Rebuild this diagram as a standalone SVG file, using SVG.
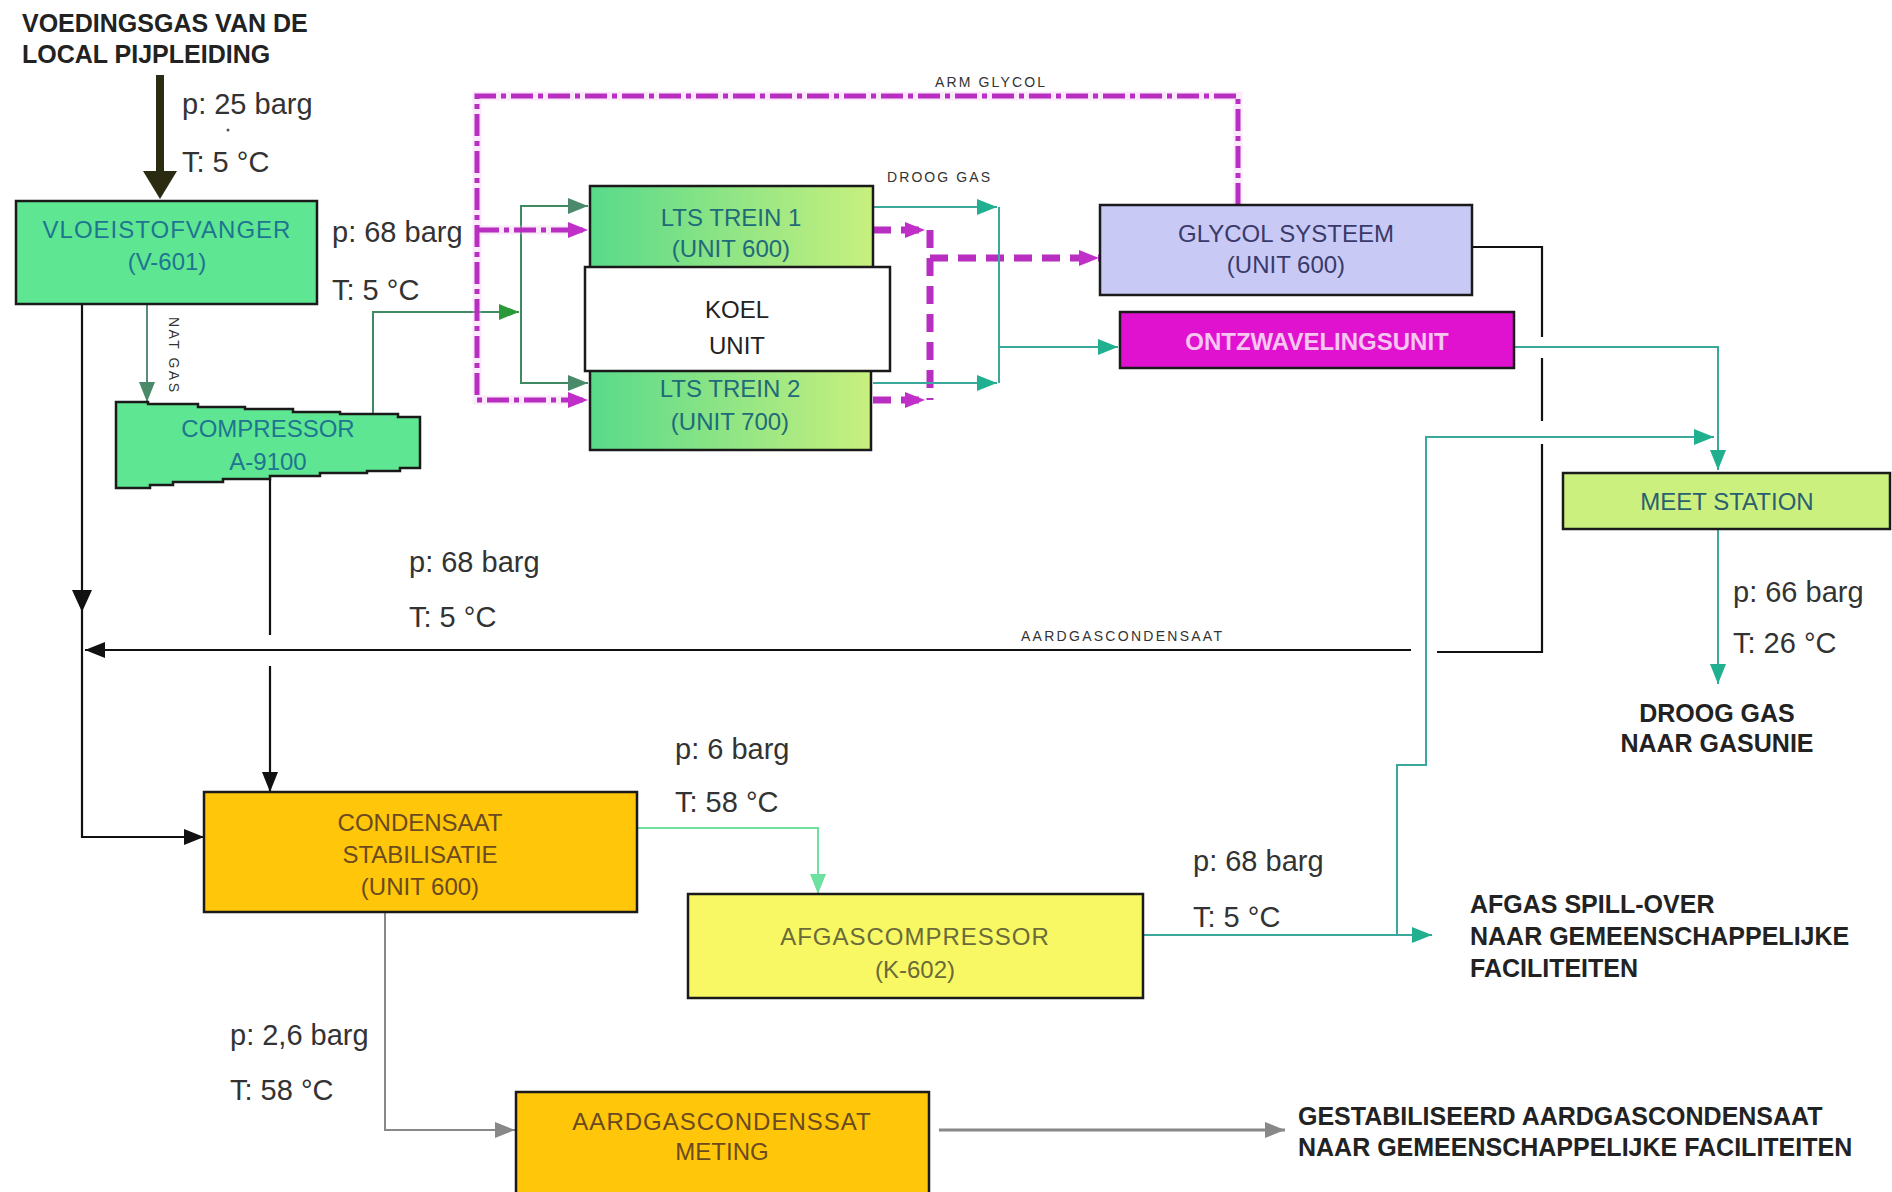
<svg xmlns="http://www.w3.org/2000/svg" width="1892" height="1192" viewBox="0 0 1892 1192">
<style>
text{font-family:"Liberation Sans",Arial,sans-serif}
.bx{font-size:24px;text-anchor:middle}
.lbl{font-size:29px;fill:#333}
.bl{font-size:25px;font-weight:bold;fill:#222}
.sm{font-size:14px;fill:#333}
.node{stroke:#1a1a1a;stroke-width:2.5}
.ln{fill:none}
.blk{stroke:#111;stroke-width:2.2}
.grn{stroke:#3f8a62;stroke-width:2}
.cy{stroke:#3aa89a;stroke-width:2}
.mag{stroke:#b82ec0;stroke-width:5;stroke-dasharray:22 5 5 5}
.magd{stroke:#b82ec0;stroke-width:7;stroke-dasharray:18 10}
.glow{stroke:#f3b8f3;stroke-opacity:.3;stroke-width:9}
</style>
<defs>
<linearGradient id="lts" x1="0" y1="0" x2="1" y2="0">
<stop offset="0" stop-color="#58da8b"/><stop offset="1" stop-color="#c8f07e"/>
</linearGradient>
<marker id="aBlk" viewBox="0 0 20 16" refX="20" refY="8" markerWidth="20" markerHeight="16" markerUnits="userSpaceOnUse" orient="auto"><path d="M0,0 L20,8 L0,16 z" fill="#111"/></marker>
<marker id="aGrn" viewBox="0 0 20 16" refX="20" refY="8" markerWidth="20" markerHeight="16" markerUnits="userSpaceOnUse" orient="auto"><path d="M0,0 L20,8 L0,16 z" fill="#2a9a3a"/></marker>
<marker id="aGG" viewBox="0 0 20 16" refX="20" refY="8" markerWidth="20" markerHeight="16" markerUnits="userSpaceOnUse" orient="auto"><path d="M0,0 L20,8 L0,16 z" fill="#4a8a6a"/></marker>
<marker id="aMag" viewBox="0 0 20 16" refX="20" refY="8" markerWidth="20" markerHeight="16" markerUnits="userSpaceOnUse" orient="auto"><path d="M0,0 L20,8 L0,16 z" fill="#c030c8"/></marker>
<marker id="aCy" viewBox="0 0 20 16" refX="20" refY="8" markerWidth="20" markerHeight="16" markerUnits="userSpaceOnUse" orient="auto"><path d="M0,0 L20,8 L0,16 z" fill="#20b090"/></marker>
<marker id="aLG" viewBox="0 0 20 16" refX="20" refY="8" markerWidth="20" markerHeight="16" markerUnits="userSpaceOnUse" orient="auto"><path d="M0,0 L20,8 L0,16 z" fill="#6ee0a0"/></marker>
<marker id="aGry" viewBox="0 0 20 16" refX="20" refY="8" markerWidth="20" markerHeight="16" markerUnits="userSpaceOnUse" orient="auto"><path d="M0,0 L20,8 L0,16 z" fill="#888"/></marker>
</defs>
<rect width="1892" height="1192" fill="#fff"/>

<g id="connectors">
<!-- feed -->
<line x1="160" y1="75" x2="160" y2="174" stroke="#2b2b12" stroke-width="8"/>
<polygon points="143,171 177,171 160,199" fill="#2b2b12"/>
<!-- nat gas -->
<path class="ln" d="M147,304 V402" stroke="#5a8a7a" stroke-width="2" marker-end="url(#aGG)"/>
<!-- compressor to LTS -->
<path class="ln grn" d="M373,414 V312 H519" stroke="#2a9a3a" marker-end="url(#aGrn)"/>
<path class="ln grn" d="M521,312 V206 H588" marker-end="url(#aGG)"/>
<path class="ln grn" d="M521,312 V383 H588" marker-end="url(#aGG)"/>
<!-- arm glycol -->
<path class="ln glow" d="M1238,205 V96 H477 V400 H580 M477,230 H580"/>
<path class="ln mag" d="M1238,205 V96 H477 V400 H588" marker-end="url(#aMag)"/>
<path class="ln mag" d="M477,230 H588" marker-end="url(#aMag)"/>
<!-- rich glycol -->
<path class="ln magd" d="M873,230 H925" marker-end="url(#aMag)"/>
<path class="ln magd" d="M873,400 H925" marker-end="url(#aMag)"/>
<path class="ln magd" d="M930,230 V400"/>
<path class="ln magd" d="M930,258 H1099" marker-end="url(#aMag)"/>
<!-- droog gas -->
<path class="ln cy" d="M873,207 H997" marker-end="url(#aCy)"/>
<path class="ln cy" d="M873,383 H997" marker-end="url(#aCy)"/>
<path class="ln cy" d="M999,207 V383"/>
<path class="ln cy" d="M999,347 H1118" marker-end="url(#aCy)"/>
<path class="ln cy" d="M1515,347 H1718 V470" marker-end="url(#aCy)"/>
<path class="ln cy" d="M1144,935 H1432" marker-end="url(#aCy)"/>
<path class="ln cy" d="M1397,935 V765 H1426 V437 H1714" marker-end="url(#aCy)"/>
<path class="ln cy" d="M1718,529 V684" marker-end="url(#aCy)"/>
<!-- aardgascondensaat return -->
<path class="ln blk" d="M1472,247 H1542 V337 M1542,358 V421 M1542,444 V652 H1437 M1411,650 H85" marker-end="url(#aBlk)"/>
<path class="ln blk" d="M270,479 V635 M270,666 V792" marker-end="url(#aBlk)"/>
<path class="ln blk" d="M82,304 V837 H204" marker-end="url(#aBlk)"/>
<polygon points="72,590 92,590 82,612" fill="#111"/>
<!-- condensaat -->
<path class="ln" d="M637,828 H818 V894" stroke="#6ee0a0" stroke-width="2" marker-end="url(#aLG)"/>
<path class="ln" d="M385,912 V1130 H515" stroke="#888" stroke-width="2" marker-end="url(#aGry)"/>
<path class="ln" d="M939,1130 H1285" stroke="#888" stroke-width="3" marker-end="url(#aGry)"/>
</g>

<g id="n-vloeistofvanger">
<rect class="node" x="16" y="201" width="301" height="103" fill="#5ee693"/>
<text class="bx" x="167" y="238" fill="#1f7590" letter-spacing="1">VLOEISTOFVANGER</text>
<text class="bx" x="167" y="270" fill="#1f7590">(V-601)</text>
</g>
<g id="n-compressor">
<polygon class="node" fill="#5ee693" points="116,402 148,402 148,404 198,404 198,407 245,407 245,409 293,409 293,412 340,412 340,414 398,414 398,417 420,417 420,468 400,468 400,471 367,471 367,473 320,473 320,476 270,476 270,479 223,479 223,482 173,482 173,485 150,485 150,488 116,488"/>
<text class="bx" x="268" y="437" fill="#1f7590">COMPRESSOR</text>
<text class="bx" x="268" y="470" fill="#1f7590">A-9100</text>
</g>
<g id="n-lts1">
<rect class="node" x="590" y="186" width="283" height="84" fill="url(#lts)"/>
<text class="bx" x="731" y="226" fill="#206a7a">LTS TREIN 1</text>
<text class="bx" x="731" y="257" fill="#206a7a">(UNIT 600)</text>
</g>
<g id="n-lts2">
<rect class="node" x="590" y="368" width="281" height="82" fill="url(#lts)"/>
<text class="bx" x="730" y="397" fill="#206a7a">LTS TREIN 2</text>
<text class="bx" x="730" y="430" fill="#206a7a">(UNIT 700)</text>
</g>
<g id="n-koel">
<rect class="node" x="585" y="267" width="305" height="104" fill="#fff"/>
<text class="bx" x="737" y="318" fill="#222">KOEL</text>
<text class="bx" x="737" y="354" fill="#222">UNIT</text>
</g>
<g id="n-glycol">
<rect class="node" x="1100" y="205" width="372" height="90" fill="#c9c9f6"/>
<text class="bx" x="1286" y="242" fill="#3a3a6a">GLYCOL SYSTEEM</text>
<text class="bx" x="1286" y="273" fill="#3a3a6a">(UNIT 600)</text>
</g>
<g id="n-ontzwaveling">
<rect class="node" x="1120" y="312" width="394" height="56" fill="#e012d0"/>
<text class="bx" x="1317" y="350" fill="#f6c6f0" font-weight="bold">ONTZWAVELINGSUNIT</text>
</g>
<g id="n-meetstation">
<rect class="node" x="1563" y="473" width="327" height="56" fill="#ccf07e"/>
<text class="bx" x="1727" y="510" fill="#2a5f70">MEET STATION</text>
</g>
<g id="n-condensaat">
<rect class="node" x="204" y="792" width="433" height="120" fill="#ffc60a"/>
<text class="bx" x="420" y="831" fill="#6a4a20">CONDENSAAT</text>
<text class="bx" x="420" y="863" fill="#6a4a20">STABILISATIE</text>
<text class="bx" x="420" y="895" fill="#6a4a20">(UNIT 600)</text>
</g>
<g id="n-afgascompressor">
<rect class="node" x="688" y="894" width="455" height="104" fill="#f8f864"/>
<text class="bx" x="915" y="945" fill="#6a6a3a" letter-spacing="1">AFGASCOMPRESSOR</text>
<text class="bx" x="915" y="978" fill="#6a6a3a">(K-602)</text>
</g>
<g id="n-meting">
<rect class="node" x="516" y="1092" width="413" height="110" fill="#ffc60a"/>
<text class="bx" x="722" y="1130" fill="#6a4a20" letter-spacing="1">AARDGASCONDENSSAT</text>
<text class="bx" x="722" y="1160" fill="#6a4a20">METING</text>
</g>

<g id="labels">
<text class="bl" x="22" y="32">VOEDINGSGAS VAN DE</text>
<text class="bl" x="22" y="63">LOCAL PIJPLEIDING</text>
<text class="lbl" x="182" y="114">p: 25 barg</text>
<circle cx="228" cy="130" r="1.5" fill="#555"/>
<text class="lbl" x="182" y="172">T: 5 °C</text>
<text class="lbl" x="332" y="242">p: 68 barg</text>
<text class="lbl" x="332" y="300">T: 5 °C</text>
<text class="sm" x="169" y="317" font-size="15" transform="rotate(90 169 317)" textLength="75" lengthAdjust="spacing">NAT GAS</text>
<text class="sm" x="935" y="87" textLength="110" lengthAdjust="spacing">ARM GLYCOL</text>
<text class="sm" x="887" y="182" textLength="103" lengthAdjust="spacing">DROOG GAS</text>
<text class="sm" x="1021" y="641" textLength="201" lengthAdjust="spacing">AARDGASCONDENSAAT</text>
<text class="lbl" x="409" y="572">p: 68 barg</text>
<text class="lbl" x="409" y="627">T: 5 °C</text>
<text class="lbl" x="675" y="759">p: 6 barg</text>
<text class="lbl" x="675" y="812">T: 58 °C</text>
<text class="lbl" x="1193" y="871">p: 68 barg</text>
<text class="lbl" x="1193" y="927">T: 5 °C</text>
<text class="lbl" x="1733" y="602">p: 66 barg</text>
<text class="lbl" x="1733" y="653">T: 26 °C</text>
<text class="bl" x="1717" y="722" text-anchor="middle">DROOG GAS</text>
<text class="bl" x="1717" y="752" text-anchor="middle">NAAR GASUNIE</text>
<text class="bl" x="1470" y="913">AFGAS SPILL-OVER</text>
<text class="bl" x="1470" y="945">NAAR GEMEENSCHAPPELIJKE</text>
<text class="bl" x="1470" y="977">FACILITEITEN</text>
<text class="lbl" x="230" y="1045">p: 2,6 barg</text>
<text class="lbl" x="230" y="1100">T: 58 °C</text>
<text class="bl" x="1298" y="1125">GESTABILISEERD AARDGASCONDENSAAT</text>
<text class="bl" x="1298" y="1156">NAAR GEMEENSCHAPPELIJKE FACILITEITEN</text>
</g>
</svg>
